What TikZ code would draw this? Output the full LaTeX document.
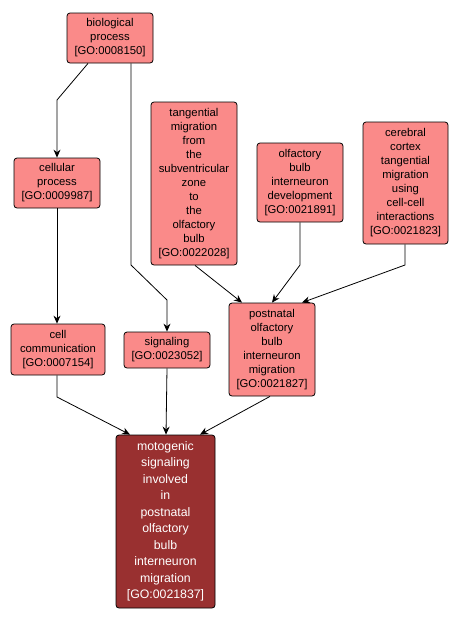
\documentclass[tikz,border=0pt]{standalone}
\usepackage{fontspec}
\setmainfont{Liberation Sans}
\usetikzlibrary{arrows.meta}
\definecolor{gofill}{RGB}{250,138,137}
\definecolor{godark}{RGB}{153,48,48}
\tikzset{
  gobox/.style={draw=black, line width=0.8pt, rounded corners=3pt, fill=gofill, inner sep=0pt,
    align=center, font=\fontsize{11.3}{14}\selectfont, text=black},
  mainbox/.style={gobox, fill=godark, text=white, font=\fontsize{12.3}{16.5}\selectfont},
  arr/.style={draw=black, line width=0.8pt, -{Stealth[length=8pt,width=7pt]}}
}
\begin{document}
\begin{tikzpicture}[x=1pt,y=-1pt]
\useasboundingbox (0,0) rectangle (459,622);
\node[gobox, minimum width=86pt, minimum height=50pt] (bio) at (110,38) {biological\\process\\{[GO:0008150]}};
\node[gobox, minimum width=86pt, minimum height=50pt] (cellular) at (57,183) {cellular\\process\\{[GO:0009987]}};
\node[gobox, minimum width=86pt, minimum height=163pt] (tang) at (194,183.5) {tangential\\migration\\from\\the\\subventricular\\zone\\to\\the\\olfactory\\bulb\\{[GO:0022028]}};
\node[gobox, minimum width=86pt, minimum height=79pt] (olf) at (300,182.5) {olfactory\\bulb\\interneuron\\development\\{[GO:0021891]}};
\node[gobox, minimum width=85pt, minimum height=122pt] (cer) at (405.5,183) {cerebral\\cortex\\tangential\\migration\\using\\cell-cell\\interactions\\{[GO:0021823]}};
\node[gobox, minimum width=86pt, minimum height=93pt] (post) at (272,349.5) {postnatal\\olfactory\\bulb\\interneuron\\migration\\{[GO:0021827]}};
\node[gobox, minimum width=86pt, minimum height=36pt] (sig) at (167,350) {signaling\\{[GO:0023052]}};
\node[gobox, minimum width=94pt, minimum height=51pt] (comm) at (58,349.5) {cell\\communication\\{[GO:0007154]}};
\node[mainbox, minimum width=99pt, minimum height=173pt] (moto) at (165.5,521.5) {motogenic\\signaling\\involved\\in\\postnatal\\olfactory\\bulb\\interneuron\\migration\\{[GO:0021837]}};

\coordinate (b1) at (57,100);
\coordinate (b2) at (131,265);
\coordinate (b3) at (167,300);
\coordinate (b4) at (300,265);
\coordinate (b5) at (405,265);
\coordinate (b6) at (57,397);

\draw[arr] (bio.south -| 88,0) -- (b1) -- (cellular.north);
\draw[arr] (bio.south -| b2) -- (b2) -- (b3) -- (sig.north);
\draw[arr] (cellular.south) -- (cellular.south |- comm.north);
\draw[arr] (tang.south -| 195,0) -- (post.north -| 242,0);
\draw[arr] (olf.south) -- (b4) -- (post.north);
\draw[arr] (cer.south -| b5) -- (b5) -- (post.north -| 302,0);
\draw[arr] (comm.south -| b6) -- (b6) -- (moto.north -| 130,0);
\draw[arr] (sig.south) -- (moto.north -| 166,0);
\draw[arr] (post.south -| 270,0) -- (moto.north -| 200,0);
\end{tikzpicture}
\end{document}
